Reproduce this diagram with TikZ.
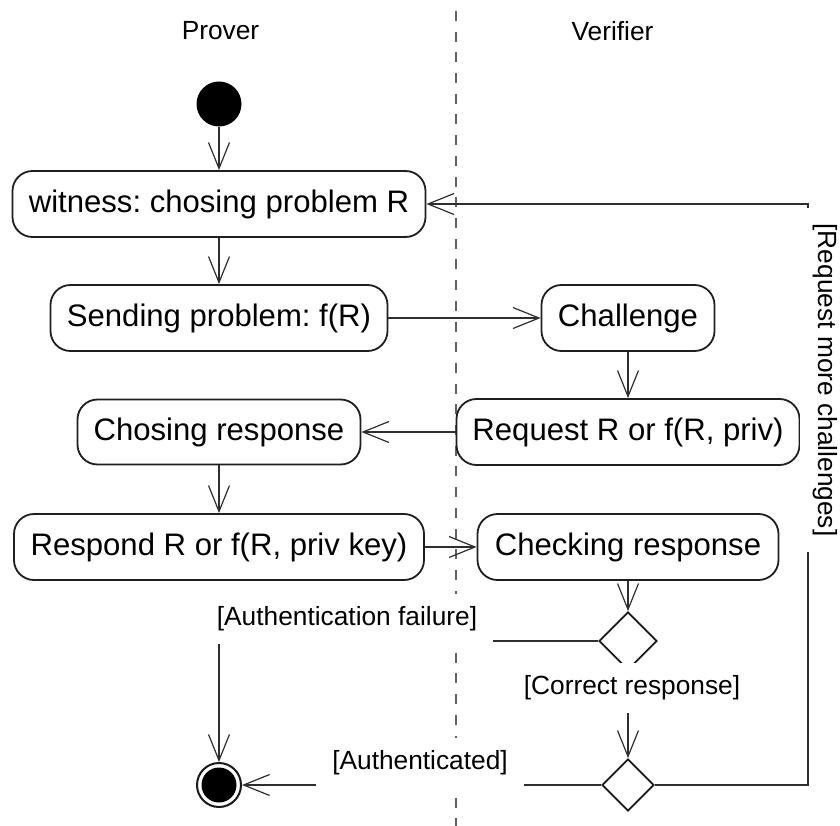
\documentclass[tikz,border=0pt]{standalone}
\usepackage{fontspec}
\setmainfont{Liberation Sans}
\usetikzlibrary{arrows.meta,shapes.geometric}
\frenchspacing

\begin{document}
\begin{tikzpicture}[x=1pt,y=-1pt,
  action/.style={draw=black!88, line width=1.8pt, rounded corners=20pt,
    fill=white, inner sep=0pt, font=\fontsize{31.1}{37}\selectfont},
  decision/.style={diamond, draw=black!90, line width=1.8pt, fill=white,
    inner sep=0pt, aspect=1},
  flow/.style={draw=black!82, line width=1.2pt,
    -{Straight Barb[length=26pt,width=21pt]}},
  guard/.style={fill=white, inner xsep=16pt, inner ysep=0pt,
    minimum height=50pt, font=\fontsize{26.3}{31}\selectfont},
  lanetitle/.style={font=\fontsize{26.3}{31}\selectfont},
  lane/.style={draw=black!62, line width=1.5pt,
    dash pattern=on 10pt off 10.7pt}
]
\useasboundingbox (0,0) rectangle (840,826);

% swimlane separator
\coordinate (laneTop) at (456,11);
\coordinate (laneBot) at (456,826);
\draw[lane] (laneTop) -- (laneBot);

% swimlane titles
\node[lanetitle] (prover) at (220.5,31) {Prover};
\node[lanetitle] (verifier) at (612.5,31) {Verifier};

% initial and final states
\node[circle, fill=black, minimum size=45pt, inner sep=0pt] (start) at (219,104) {};
\node[circle, draw=black!90, line width=2pt, fill=white, minimum size=44pt,
  inner sep=0pt] (final) at (219,785) {};
\node[circle, fill=black, minimum size=35pt, inner sep=0pt] (finalcore) at (final.center) {};

% prover actions
\node[action, minimum width=413pt, minimum height=66pt] (witness) at (219,204)
  {witness: chosing problem R};
\node[action, minimum width=337pt, minimum height=66pt] (sending) at (219,318)
  {Sending problem: f(R)};
\node[action, minimum width=283pt, minimum height=65pt] (chosing) at (219,432)
  {Chosing response};
\node[action, minimum width=410pt, minimum height=66pt] (respond) at (219,547)
  {Respond R or f(R, priv key)};

% verifier actions
\node[action, minimum width=173pt, minimum height=66pt] (challenge) at (628,318)
  {Challenge};
\node[action, minimum width=343pt, minimum height=66pt] (request) at (628,432)
  {Request R or f(R, priv)};
\node[action, minimum width=301pt, minimum height=66pt] (checking) at (628,547)
  {Checking response};

% decisions
\node[decision, minimum width=58pt, minimum height=58pt] (check) at (628,641) {};
\node[decision, minimum width=52pt, minimum height=52pt] (outcome) at (628,785) {};

% control flow
\draw[flow] (start.south) -- (witness.north);
\draw[flow] (witness.south) -- (sending.north);
\draw[flow] (sending.east) -- (challenge.west);
\draw[flow] (challenge.south) -- (request.north);
\draw[flow] (request.west) -- (chosing.east);
\draw[flow] (chosing.south) -- (respond.north);
\draw[flow] (respond.east) -- (checking.west);
\draw[flow] (checking.south) -- (check.north);
\draw[flow] (check.west) -| (final.north);
\draw[flow] (check.south) -- (outcome.north);
\draw[flow] (outcome.west) -- (final.east);
\coordinate (loop) at (808,785);
\draw[flow] (outcome.east) -- (loop) |- (witness.east);

% guards
\node[guard] (gfail) at (347,619) {[Authentication failure]};
\node[guard] (gok) at (632,688) {[Correct response]};
\node[guard] (gauth) at (420,763) {[Authenticated]};
\node[guard, rotate=-90] (gmore) at (825,380) {[Request more challenges]};
\end{tikzpicture}
\end{document}
